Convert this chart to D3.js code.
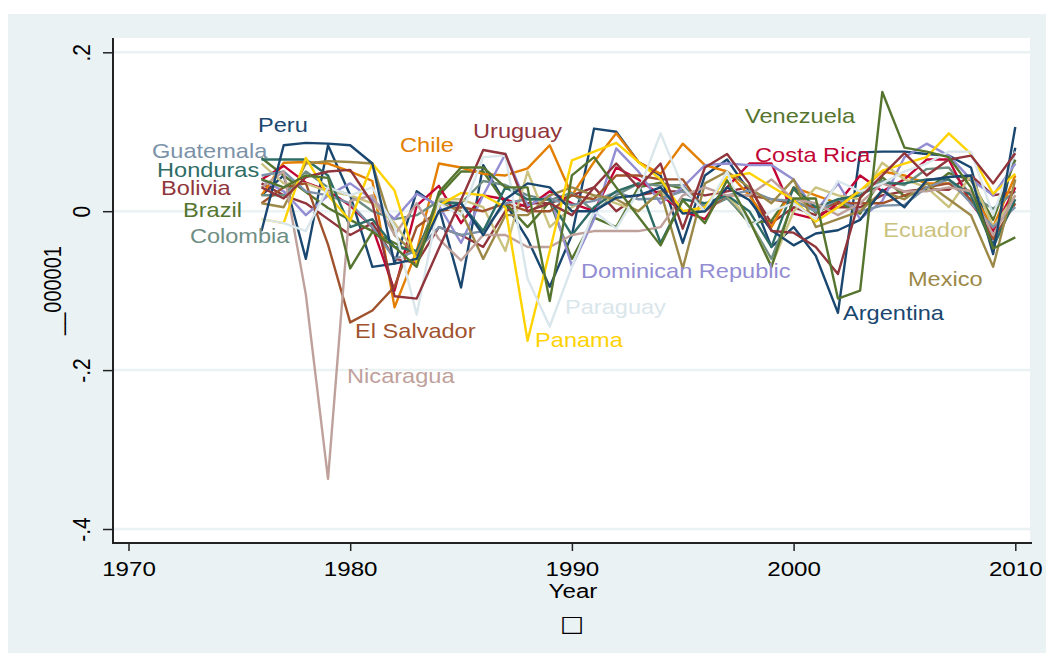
<!DOCTYPE html>
<html>
<head>
<meta charset="utf-8">
<script src="https://cdn.jsdelivr.net/npm/d3@7"></script>
<style>
  body { margin: 0; background: #ffffff; }
  text { font-family: "Liberation Sans", Arial, sans-serif; }
</style>
</head>
<body>
<svg id="chart" width="1046" height="653"></svg>
<script>
// Years on the x axis
const years = [1976, 1977, 1978, 1979, 1980, 1981, 1982, 1983, 1984, 1985,
               1986, 1987, 1988, 1989, 1990, 1991, 1992, 1993, 1994, 1995,
               1996, 1997, 1998, 1999, 2000, 2001, 2002, 2003, 2004, 2005,
               2006, 2007, 2008, 2009, 2010];

const countries = ["Argentina", "Bolivia", "Brazil", "Chile", "Colombia", "Costa Rica",
                   "Dominican Republic", "Ecuador", "El Salvador", "Guatemala", "Honduras",
                   "Mexico", "Nicaragua", "Panama", "Paraguay", "Peru", "Uruguay", "Venezuela"];

// One value per year for each country
const argentina = [0.02, 0.045, -0.06, 0.083, 0.02, -0.07, -0.066, 0.025, 0.005, -0.096,
  0.058, 0.01, -0.035, -0.095, -0.03, 0.104, 0.1, 0.062, 0.045, -0.04,
  0.045, 0.065, 0.025, -0.045, -0.02, -0.056, -0.128, 0.074, 0.075, 0.075,
  0.072, 0.07, 0.055, -0.045, 0.08];
const bolivia = [0.035, 0.02, 0.01, -0.01, -0.03, -0.015, -0.06, -0.065, -0.02, -0.03,
  -0.045, 0.0, 0.01, 0.01, 0.02, 0.03, 0.0, 0.02, 0.025, 0.025,
  0.02, 0.025, 0.03, -0.015, 0.005, -0.005, 0.005, 0.005, 0.02, 0.025,
  0.028, 0.027, 0.045, 0.02, 0.025];
const brazil = [0.067, 0.045, 0.024, 0.004, -0.011, -0.025, -0.04, -0.055, 0.02, 0.05,
  0.05, 0.01, -0.02, 0.012, -0.06, -0.008, -0.02, 0.03, 0.036, 0.028,
  0.006, 0.018, -0.015, -0.012, 0.028, -0.002, 0.012, -0.003, 0.043, 0.019,
  0.027, 0.048, 0.039, -0.011, 0.065];
const chile = [0.02, 0.061, 0.062, 0.06, 0.05, 0.038, -0.121, -0.05, 0.06, 0.055,
  0.047, 0.045, 0.054, 0.083, 0.02, 0.062, 0.098, 0.062, 0.047, 0.085,
  0.058, 0.05, 0.02, -0.02, 0.03, 0.02, 0.01, 0.025, 0.05, 0.045,
  0.035, 0.035, 0.025, -0.02, 0.045];
const colombia = [0.02, 0.02, 0.05, 0.03, 0.02, 0.0, -0.01, -0.005, 0.013, 0.01,
  0.038, 0.033, 0.02, 0.014, 0.023, 0.0, 0.02, 0.035, 0.032, 0.033,
  0.003, 0.016, -0.012, -0.06, 0.013, 0.0, 0.01, 0.024, 0.038, 0.033,
  0.053, 0.055, 0.02, 0.003, 0.025];
const costaRica = [0.04, 0.057, 0.036, 0.026, 0.007, -0.02, -0.1, 0.007, 0.032, -0.015,
  0.02, 0.015, 0.005, 0.025, 0.01, 0.0, 0.055, 0.04, 0.02, 0.0,
  -0.01, 0.03, 0.06, 0.06, -0.003, -0.01, 0.01, 0.045, 0.025, 0.04,
  0.065, 0.065, 0.01, -0.025, 0.03];
const dominicanRepublic = [0.04, 0.025, -0.005, 0.02, 0.035, 0.015, -0.01, 0.022, 0.007, -0.04,
  0.02, 0.072, 0.007, 0.02, -0.069, -0.01, 0.079, 0.05, 0.01, 0.03,
  0.058, 0.06, 0.058, 0.058, 0.04, 0.0, 0.035, -0.01, 0.013, 0.068,
  0.085, 0.07, 0.04, 0.02, 0.06];
const ecuador = [0.06, 0.035, 0.035, 0.025, 0.02, 0.01, -0.015, -0.055, 0.015, 0.015,
  0.005, -0.05, 0.05, -0.02, 0.005, 0.02, 0.01, 0.0, 0.025, 0.0,
  0.0, 0.02, -0.01, -0.069, 0.0, 0.03, 0.02, 0.015, 0.061, 0.04,
  0.03, 0.005, 0.045, -0.02, 0.02];
const elSalvador = [0.01, 0.03, 0.035, -0.042, -0.14, -0.125, -0.095, -0.02, 0.0, 0.005,
  0.0, 0.01, 0.0, 0.0, 0.02, 0.015, 0.045, 0.045, 0.04, 0.04,
  0.0, 0.02, 0.02, 0.015, 0.01, 0.005, 0.01, 0.01, 0.01, 0.02,
  0.03, 0.035, 0.015, -0.035, 0.01];
const guatemala = [0.045, 0.05, 0.025, 0.02, 0.01, -0.02, -0.06, -0.05, -0.02, -0.03,
  -0.025, 0.01, 0.015, 0.015, 0.008, 0.013, 0.024, 0.015, 0.016, 0.025,
  0.006, 0.02, 0.026, 0.015, 0.013, 0.0, 0.015, 0.0, 0.007, 0.008,
  0.03, 0.04, 0.01, -0.02, 0.005];
const honduras = [0.065, 0.065, 0.065, 0.045, -0.02, -0.01, -0.045, -0.05, 0.01, 0.01,
  -0.025, 0.03, 0.015, 0.015, -0.03, 0.005, 0.025, 0.035, -0.04, 0.015,
  0.01, 0.02, 0.0, -0.045, 0.03, 0.005, 0.015, 0.02, 0.035, 0.035,
  0.04, 0.04, 0.02, -0.045, 0.015];
const mexico = [0.01, 0.005, 0.06, 0.063, 0.062, 0.06, -0.03, -0.055, 0.01, 0.0,
  -0.06, -0.005, -0.005, 0.02, 0.03, 0.02, 0.015, 0.0, 0.025, -0.072,
  0.035, 0.05, 0.03, 0.01, 0.04, -0.02, -0.01, 0.0, 0.025, 0.015,
  0.035, 0.015, -0.005, -0.07, 0.04];
const nicaragua = [0.03, 0.05, -0.105, -0.337, 0.013, 0.02, -0.03, 0.01, -0.035, -0.062,
  -0.03, -0.03, -0.045, -0.045, -0.03, -0.025, -0.025, -0.025, -0.02, 0.02,
  0.03, 0.02, 0.02, 0.04, 0.015, 0.01, -0.005, 0.01, 0.035, 0.025,
  0.025, 0.03, 0.025, -0.03, 0.02];
const panama = [-0.01, -0.015, 0.067, 0.02, -0.012, 0.06, 0.026, -0.065, 0.007, 0.023,
  0.02, 0.005, -0.163, -0.05, 0.064, 0.075, 0.086, 0.062, 0.04, 0.0,
  0.005, 0.043, 0.048, 0.031, 0.014, -0.013, 0.005, 0.026, 0.051, 0.06,
  0.068, 0.098, 0.072, 0.022, 0.047];
const paraguay = [-0.01, -0.015, -0.025, 0.03, 0.02, 0.03, -0.02, -0.13, 0.01, -0.005,
  0.068, 0.07, -0.085, -0.145, -0.07, 0.0, -0.022, 0.025, 0.098, 0.03,
  0.0, 0.05, -0.02, 0.0, 0.01, -0.01, 0.038, 0.025, 0.035, 0.05,
  0.06, 0.075, 0.075, -0.005, 0.075];
const peru = [-0.025, 0.083, 0.086, 0.085, 0.083, 0.06, -0.066, -0.06, 0.0, 0.01,
  -0.03, 0.015, 0.035, 0.03, 0.0, 0.0, 0.017, 0.02, 0.03, -0.003,
  0.0, 0.03, 0.014, -0.024, -0.043, -0.028, -0.024, -0.011, 0.027, 0.005,
  0.039, 0.043, 0.045, -0.054, 0.106];
const uruguay = [0.03, 0.016, 0.043, 0.05, 0.052, 0.01, -0.107, -0.11, -0.047, 0.014,
  0.077, 0.072, 0.0, 0.01, -0.005, 0.03, 0.06, 0.03, 0.06, -0.022,
  0.055, 0.072, 0.035, -0.025, -0.027, -0.045, -0.079, 0.017, 0.045, 0.073,
  0.045, 0.065, 0.07, 0.035, 0.073];
const venezuela = [0.04, 0.03, 0.045, 0.042, -0.072, -0.026, -0.045, -0.07, 0.024, 0.055,
  0.055, 0.03, 0.03, -0.113, 0.045, 0.068, 0.03, -0.007, -0.043, 0.014,
  -0.015, 0.039, -0.011, -0.07, 0.016, 0.016, -0.11, -0.1, 0.15, 0.08,
  0.075, 0.068, 0.03, -0.047, -0.033];

const seriesValues = [argentina, bolivia, brazil, chile, colombia, costaRica,
  dominicanRepublic, ecuador, elSalvador, guatemala, honduras, mexico,
  nicaragua, panama, paraguay, peru, uruguay, venezuela];

// Where each country's name sits, in (year, value) units
const labelYear  = [2002.23, 1971.47, 1972.46, 1982.25, 1972.77, 1998.26, 1990.41, 2004.04, 1980.22,
                    1971.06, 1971.29, 2005.16, 1979.86, 1988.34, 1989.69, 1975.84, 1985.54, 1997.81];
const labelValue = [-0.137, 0.0204, -0.0073, 0.0745, -0.040, 0.0619, -0.0841, -0.0325, -0.1596,
                    0.067, 0.043, -0.0941, -0.216, -0.171, -0.130, 0.0997, 0.0921, 0.111];

const yTicks = [0.2, 0, -0.2, -0.4];
const yTickLabels = [".2", "0", "-.2", "-.4"];
const xTicks = [1970, 1980, 1990, 2000, 2010];

// s2color line colours, cycling
const palette = ["#1a476f", "#90353b", "#55752f", "#e37e00", "#6e8e84", "#c10534",
                 "#938dd2", "#cac27e", "#a0522d", "#7b92a8", "#2d6d66", "#9c8847",
                 "#bfa19c", "#ffd200", "#d9e6eb"];

const W = 1046, H = 653;
const sx = 1.15; // horizontal glyph stretch
const plot = { left: 113, right: 1030, top: 38, bottom: 543 };

const svg = d3.select("#chart");

const x = d3.scaleLinear().domain([1970, 2010]).range([128.5, 1015.3]);
const y = d3.scaleLinear().domain([-0.4, 0.2]).range([529, 52.3]);

// Backgrounds
svg.append("rect").attr("x", 8).attr("y", 14).attr("width", W - 8).attr("height", H - 14)
  .attr("fill", "#eaf2f3");
svg.append("rect").attr("x", plot.left).attr("y", plot.top)
  .attr("width", plot.right - plot.left).attr("height", plot.bottom - plot.top)
  .attr("fill", "#ffffff");

// Horizontal grid
svg.append("g").selectAll("line").data(yTicks).join("line")
  .attr("x1", plot.left).attr("x2", plot.right)
  .attr("y1", d => y(d)).attr("y2", d => y(d))
  .attr("stroke", "#eaf2f3").attr("stroke-width", 2.5);

// Country lines
const line = d3.line().x((d, i) => x(years[i])).y(d => y(d));
svg.append("g").selectAll("path").data(seriesValues).join("path")
  .attr("d", d => line(d))
  .attr("fill", "none")
  .attr("stroke", (d, i) => palette[i % palette.length])
  .attr("stroke-width", 2.4)
  .attr("stroke-linejoin", "round");

// Country names
svg.append("g").selectAll("text").data(countries).join("text")
  .attr("transform", (d, i) => `translate(${x(labelYear[i])},${y(labelValue[i])}) scale(${sx},1)`)
  .attr("font-size", 20.5)
  .attr("fill", (d, i) => palette[i % palette.length])
  .text(d => d);

// Y axis
const yAxis = svg.append("g").attr("transform", `translate(${plot.left},0)`)
  .call(d3.axisLeft(y).tickValues(yTicks).tickSize(10).tickSizeOuter(0)
        .tickFormat((d, i) => yTickLabels[i]));
yAxis.select(".domain").remove();
yAxis.selectAll(".tick line").attr("stroke", "#222").attr("stroke-width", 1.5);
yAxis.selectAll(".tick text")
  .attr("x", 0).attr("dy", 0)
  .attr("transform", `translate(-23,0) scale(${sx},1) rotate(-90)`)
  .attr("text-anchor", "middle")
  .attr("font-size", 21).attr("fill", "#000")
  .style("font-family", "'Liberation Sans', Arial, sans-serif");
svg.append("line").attr("x1", plot.left).attr("x2", plot.left)
  .attr("y1", plot.top).attr("y2", plot.bottom + 1)
  .attr("stroke", "#222").attr("stroke-width", 2);

// X axis
const xAxis = svg.append("g").attr("transform", `translate(0,${plot.bottom})`)
  .call(d3.axisBottom(x).tickValues(xTicks).tickSize(8).tickSizeOuter(0)
        .tickFormat(d3.format("d")));
xAxis.select(".domain").remove();
xAxis.selectAll(".tick line").attr("stroke", "#222").attr("stroke-width", 1.5);
xAxis.selectAll(".tick text")
  .attr("y", 0).attr("dy", 0)
  .attr("transform", `translate(0,33) scale(${sx},1)`)
  .attr("font-size", 21).attr("fill", "#000")
  .style("font-family", "'Liberation Sans', Arial, sans-serif");
svg.append("line").attr("x1", plot.left - 1).attr("x2", plot.right + 2)
  .attr("y1", plot.bottom).attr("y2", plot.bottom)
  .attr("stroke", "#222").attr("stroke-width", 2);

// Axis titles
svg.append("text")
  .attr("transform", `translate(573,598) scale(${sx},1)`)
  .attr("text-anchor", "middle").attr("font-size", 21).attr("fill", "#000")
  .text("Year");
svg.append("text")
  .attr("transform", `translate(61,290.5) scale(${sx},1) rotate(-90)`)
  .attr("text-anchor", "middle").attr("font-size", 20).attr("fill", "#000")
  .text("__000001");

// Note line below the axis title
svg.append("text")
  .attr("transform", `translate(572,631) scale(${sx},1)`)
  .attr("text-anchor", "middle").attr("font-size", 22).attr("fill", "#000")
  .style("font-family", "'DejaVu Sans', sans-serif")
  .text("\u25A1");
</script>
</body>
</html>
